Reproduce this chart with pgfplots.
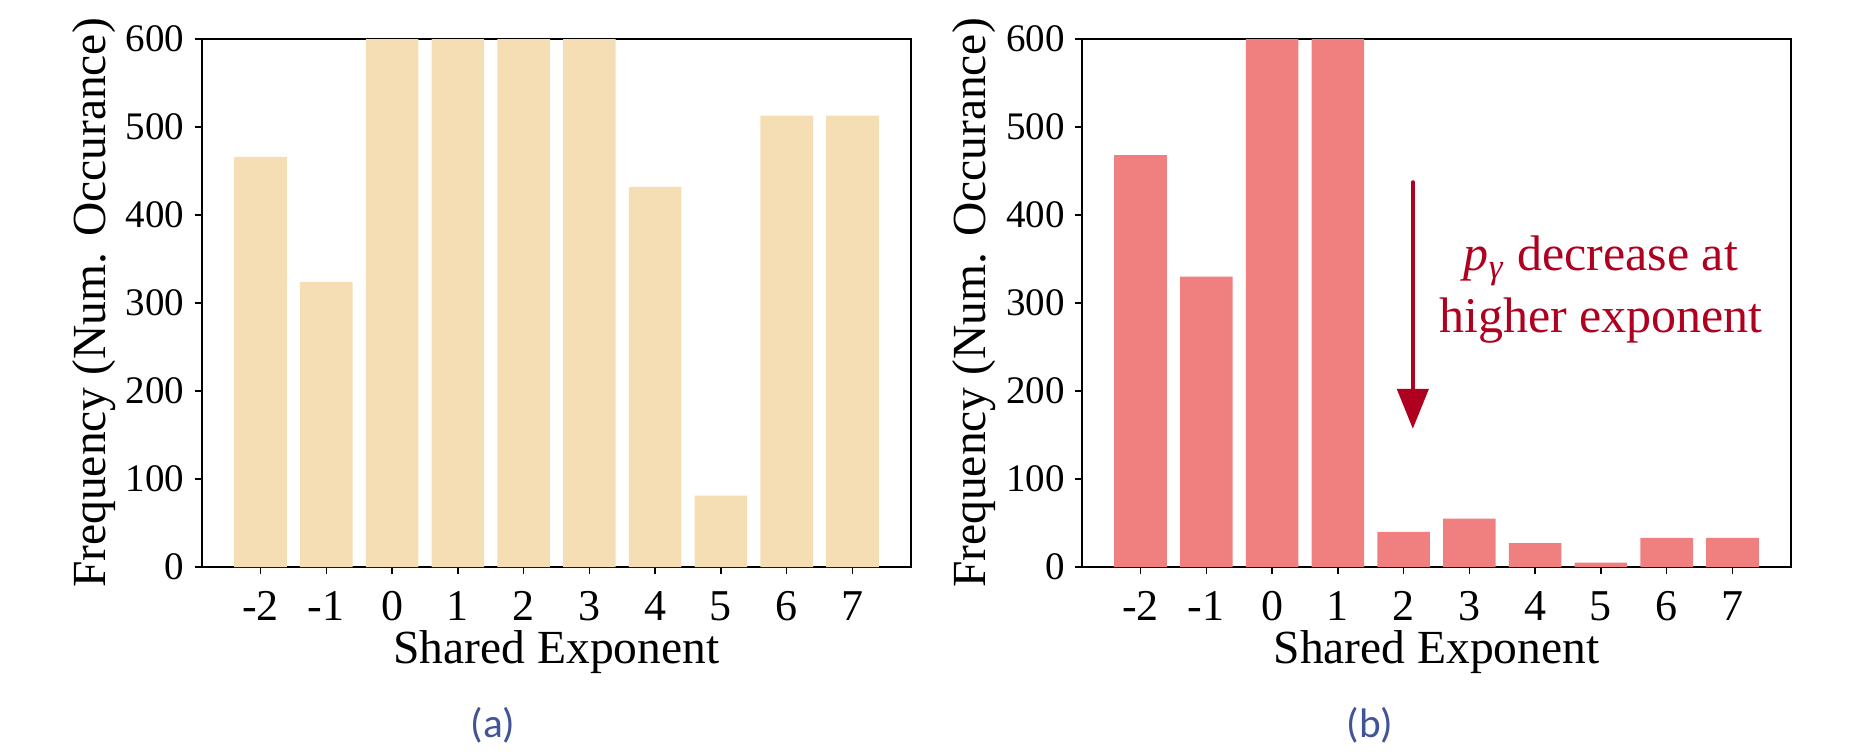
\documentclass[border=0pt]{standalone}
\usepackage{pgfplots}
\pgfplotsset{compat=1.18}
\usepackage{fontspec}
\setmainfont{Liberation Serif}
\setsansfont{Carlito}
\usetikzlibrary{arrows.meta}
\definecolor{wheatc}{RGB}{245,222,179}
\definecolor{coralc}{RGB}{240,128,128}
\definecolor{arrowred}{RGB}{176,0,32}
\definecolor{capblue}{RGB}{64,84,150}

\pgfplotsset{
  myaxis/.style={
    scale only axis, width=283.6pt, height=211.2pt,
    anchor=south west,
    ybar, bar width=0.8,
    xmin=-2.89, xmax=7.89, ymin=0, ymax=600,
    xtick={-2,-1,0,1,2,3,4,5,6,7},
    xticklabels={-2,-1,0,1,2,3,4,5,6,7},
    ytick={0,100,200,300,400,500,600},
    tick align=outside, xtick pos=bottom, ytick pos=left,
    major tick length=2.8pt,
    tick style={black, line width=0.6pt},
    axis line style={line width=0.6pt},
    /pgf/number format/assume math mode=true,
    xticklabel style={font=\rmfamily\fontsize{17.6}{20}\selectfont, anchor=base, yshift=-18.4pt, inner sep=0pt},
    yticklabel style={font=\rmfamily\fontsize{15.6}{18}\selectfont, anchor=east, inner sep=0pt, xshift=-4pt},
    xlabel={Shared Exponent},
    ylabel={Frequency (Num. Occurance)},
    xlabel style={font=\rmfamily\fontsize{19}{22}\selectfont, at={(axis description cs:0.5,-0.1837)}, anchor=base, inner sep=0pt},
    ylabel style={font=\rmfamily\fontsize{19}{22}\selectfont, at={(axis description cs:-0.152,0.5)}, anchor=center, inner sep=0pt},
  }
}

\begin{document}
\begin{tikzpicture}
\useasboundingbox (0,0) rectangle (750pt,300.4pt);

\begin{axis}[myaxis, at={(80.8pt,73.6pt)}]
\addplot[fill=wheatc, draw=none] coordinates {(-2,466) (-1,324) (0,650) (1,650) (2,650) (3,650) (4,432) (5,81) (6,513) (7,513)};
\end{axis}

\begin{axis}[myaxis, at={(432.8pt,73.6pt)}]
\addplot[fill=coralc, draw=none] coordinates {(-2,468) (-1,330) (0,650) (1,650) (2,40) (3,55) (4,27) (5,5) (6,33) (7,33)};
\draw[arrowred, line width=1.8pt, line cap=round, -{Triangle[width=12.4pt,length=16pt]}] (axis cs:2.14,437) -- (axis cs:2.14,157);
\node[text=arrowred, font=\rmfamily\fontsize{20}{24}\selectfont, anchor=base, inner sep=0pt] at (axis cs:5,337) {\textit{p}\textsubscript{\textit{γ}} decrease at};
\node[text=arrowred, font=\rmfamily\fontsize{20}{24}\selectfont, anchor=base, inner sep=0pt] at (axis cs:5,267) {higher exponent};
\end{axis}

\node[font=\sffamily\fontsize{16.5}{20}\selectfont, text=capblue] at (197.2pt,10.4pt) {(a)};
\node[font=\sffamily\fontsize{16.5}{20}\selectfont, text=capblue] at (548pt,10.4pt) {(b)};
\end{tikzpicture}
\end{document}
